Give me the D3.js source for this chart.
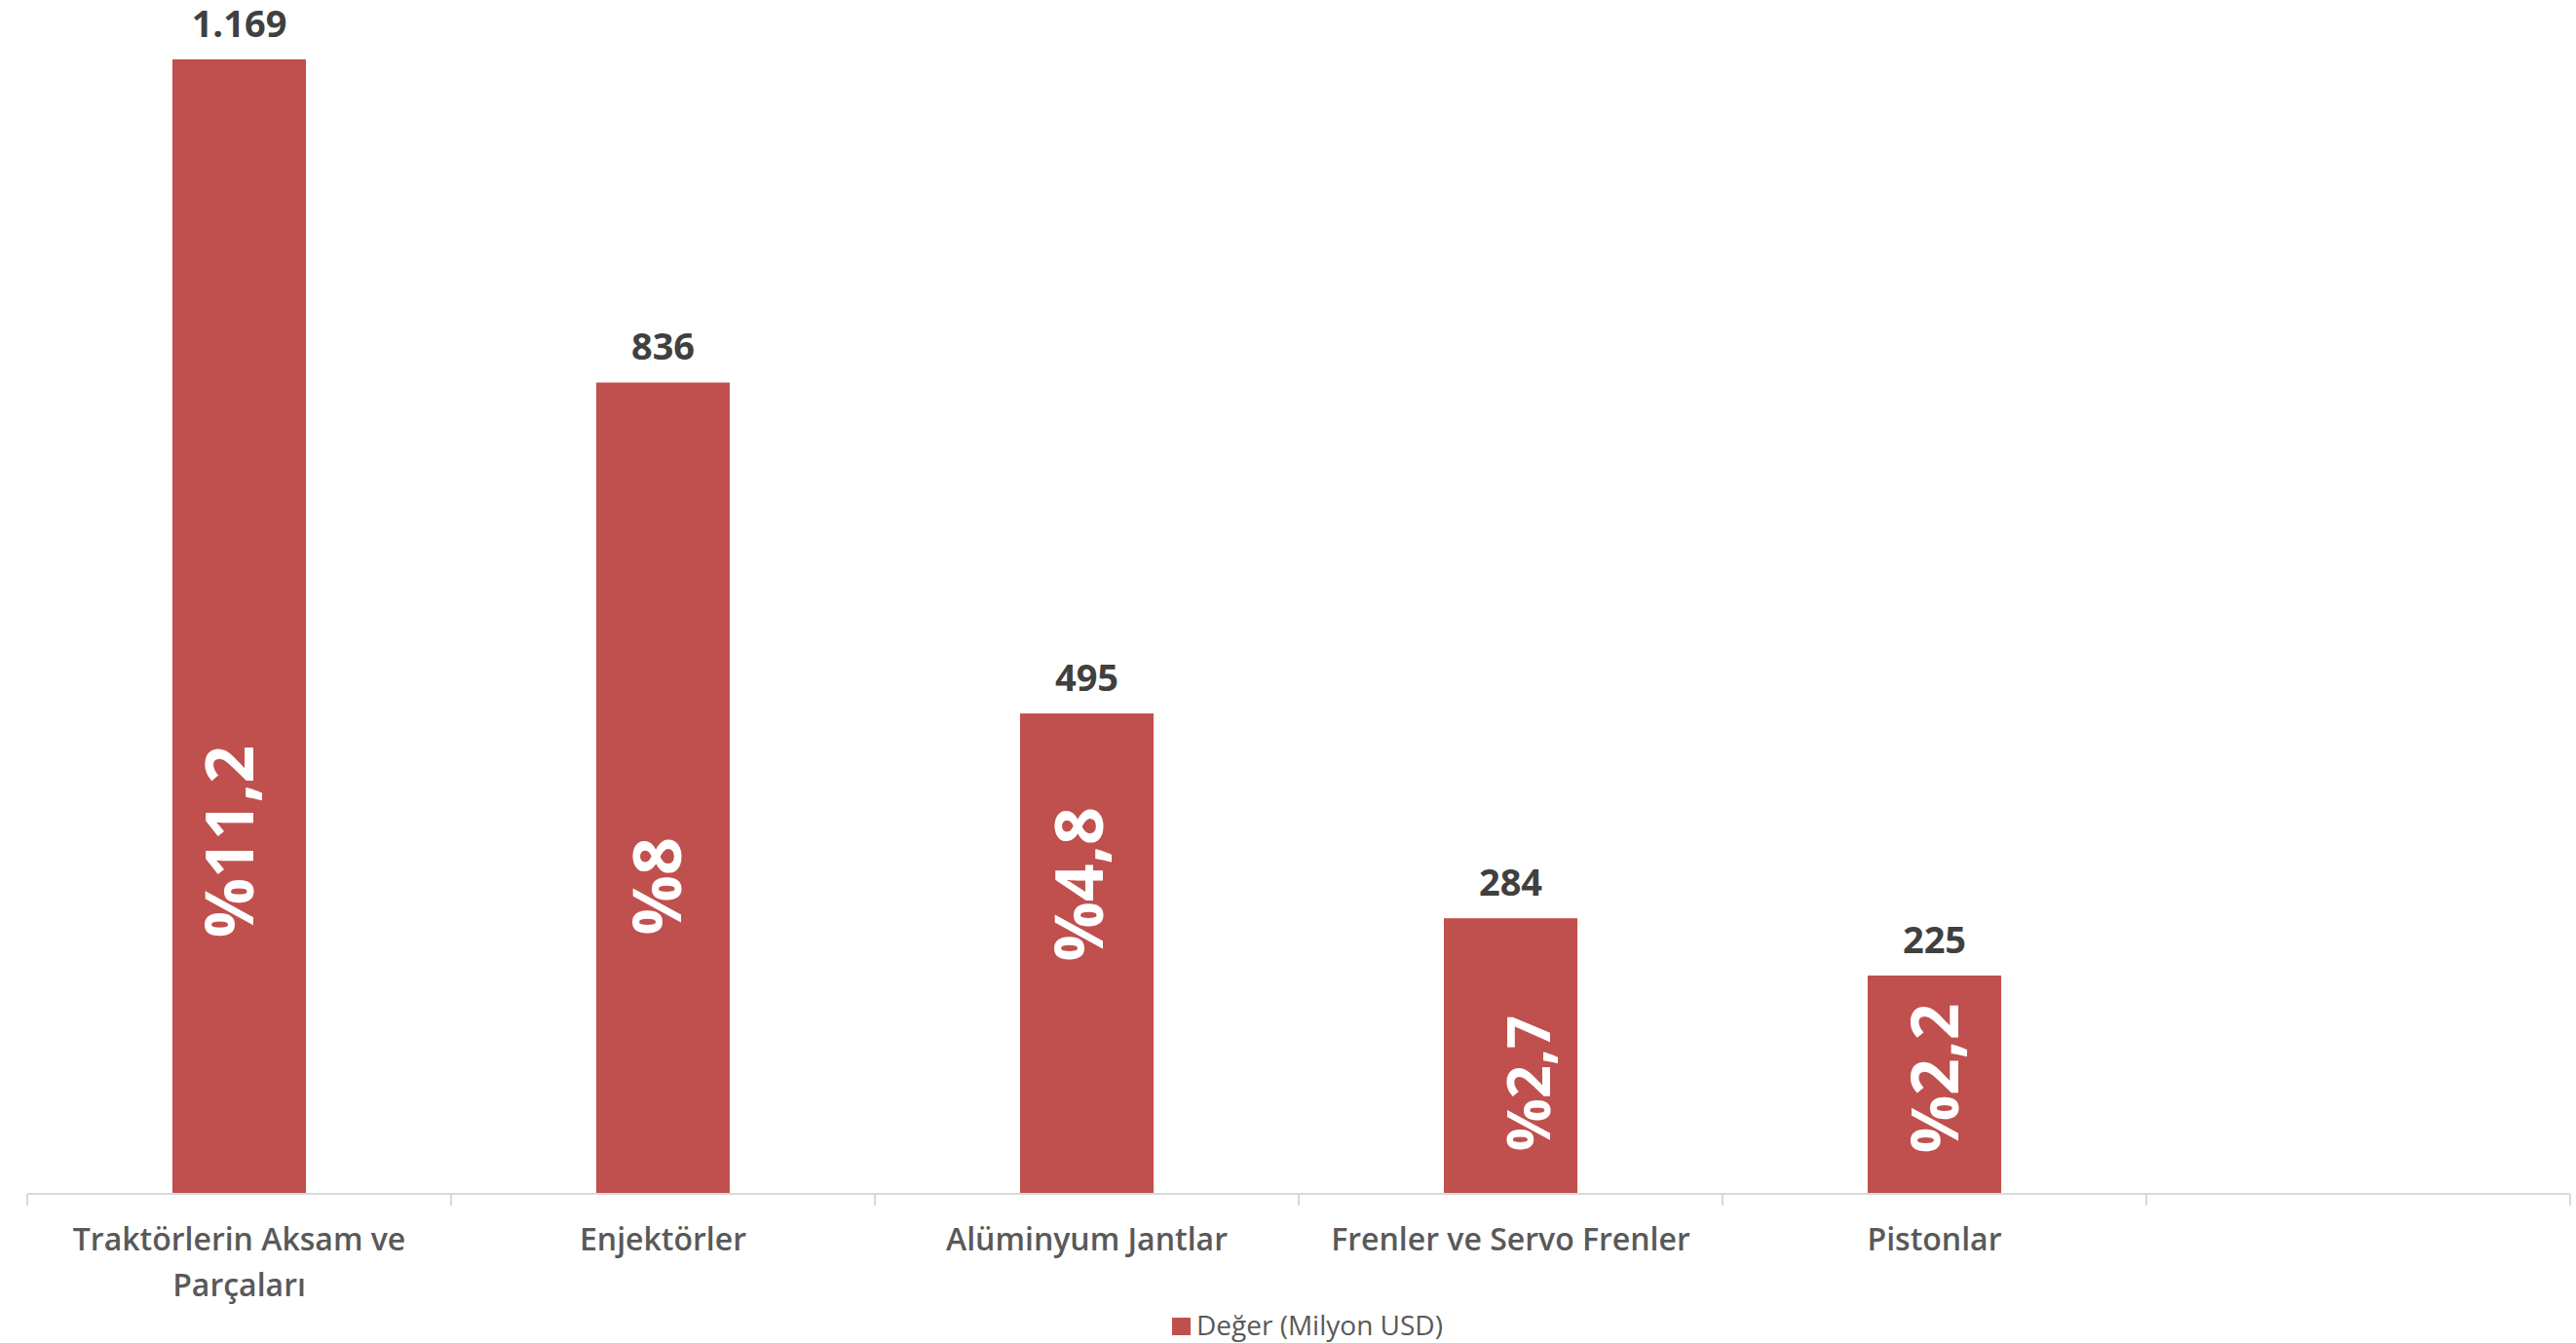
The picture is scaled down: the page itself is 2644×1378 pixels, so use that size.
<!DOCTYPE html>
<html><head><meta charset="utf-8">
<script src="https://cdn.jsdelivr.net/npm/d3@7"></script>
<style>html,body{margin:0;padding:0;background:#fff;} svg{display:block;}</style>
</head><body>
<svg id="chart" width="2644" height="1378"></svg>
<script>
// ---- data ----
const categories = ["Traktörlerin Aksam ve Parçaları", "Enjektörler", "Alüminyum Jantlar", "Frenler ve Servo Frenler", "Pistonlar", ""];
const values = [1169, 836, 495, 284, 225, null];
const valueLabels = ["1.169", "836", "495", "284", "225"];
const shareLabels = ["%11,2", "%8", "%4,8", "%2,7", "%2,2"];
const seriesName = "Değer (Milyon USD)";
const yDomain = [0, 1200];

// ---- layout (not data): hand-placed share labels ----
const shareLayout = [
  {c: 363, dx: -10, size: 68},
  {c: 317, dx: -6, size: 68},
  {c: 319, dx: -8, size: 68},
  {c: 114, dx: 19, size: 60},
  {c: 119, dx: 1, size: 66}
];

const W = 2644, H = 1378;
const plot = {left: 28, right: 2638, top: 30, bottom: 1225};
const barColor = "#C0504D";
const font = "'Open Sans', 'Liberation Sans', sans-serif";

const svg = d3.select("#chart");

const x = d3.scaleBand().domain(d3.range(categories.length)).range([plot.left, plot.right]).padding(0);
const y = d3.scaleLinear().domain(yDomain).range([plot.bottom, plot.top]);
const barW = x.bandwidth() * 0.315;

const data = values.map((v, i) => ({i, v, cat: categories[i]})).filter(d => d.v != null);

// bars
svg.append("g").selectAll("rect").data(data).join("rect")
  .attr("x", d => x(d.i) + x.bandwidth() / 2 - barW / 2)
  .attr("y", d => y(d.v))
  .attr("width", barW)
  .attr("height", d => y(0) - y(d.v))
  .attr("fill", barColor);

// axis line + boundary ticks
const axisG = svg.append("g").attr("transform", `translate(0,${plot.bottom})`);
axisG.append("line").attr("x1", plot.left).attr("x2", plot.right)
  .attr("y1", 0).attr("y2", 0).attr("stroke", "#d9d9d9").attr("stroke-width", 2);
const bounds = x.domain().map(i => x(i)).concat([plot.right]);
axisG.selectAll("line.tick").data(bounds).join("line").attr("class", "tick")
  .attr("x1", d => d).attr("x2", d => d).attr("y1", 0).attr("y2", 12)
  .attr("stroke", "#d9d9d9").attr("stroke-width", 2);

// value labels
svg.append("g").selectAll("text").data(data).join("text")
  .attr("x", d => x(d.i) + x.bandwidth() / 2)
  .attr("y", d => y(d.v) - 23)
  .attr("text-anchor", "middle")
  .attr("font-family", font).attr("font-weight", 700).attr("font-size", 38)
  .attr("fill", "#404040")
  .text(d => valueLabels[d.i]);

// share labels (rotated)
svg.append("g").selectAll("text").data(data).join("text")
  .attr("transform", d => {
    const L = shareLayout[d.i];
    const cx = x(d.i) + x.bandwidth() / 2 + L.dx + 0.357 * L.size;
    return `translate(${cx},${y(L.c)}) rotate(-90)`;
  })
  .attr("text-anchor", "middle")
  .attr("font-family", font).attr("font-weight", 700)
  .attr("font-size", d => shareLayout[d.i].size)
  .attr("fill", "#ffffff")
  .text(d => shareLabels[d.i]);

// category labels with wrapping
const catG = svg.append("g");
categories.forEach((c, i) => {
  if (!c) return;
  const t = catG.append("text")
    .attr("x", x(i) + x.bandwidth() / 2).attr("y", 1283)
    .attr("text-anchor", "middle")
    .attr("font-family", font).attr("font-weight", 600).attr("font-size", 32)
    .attr("fill", "#595959");
  const words = c.split(" ");
  let line = [], lineNo = 0;
  let ts = t.append("tspan").attr("x", x(i) + x.bandwidth() / 2).attr("dy", 0);
  words.forEach(w => {
    line.push(w);
    ts.text(line.join(" "));
    if (ts.node().getComputedTextLength() > 400 && line.length > 1) {
      line.pop();
      ts.text(line.join(" "));
      line = [w];
      lineNo++;
      ts = t.append("tspan").attr("x", x(i) + x.bandwidth() / 2).attr("dy", 47).text(w);
    }
  });
});

// legend
const lg = svg.append("g").attr("transform", "translate(1203,1352)");
lg.append("rect").attr("x", 0).attr("y", 0).attr("width", 19).attr("height", 18).attr("fill", barColor);
lg.append("text").attr("x", 25).attr("y", 18)
  .attr("font-family", font).attr("font-weight", 400).attr("font-size", 28)
  .attr("fill", "#595959").text(seriesName);
</script>
</body></html>
